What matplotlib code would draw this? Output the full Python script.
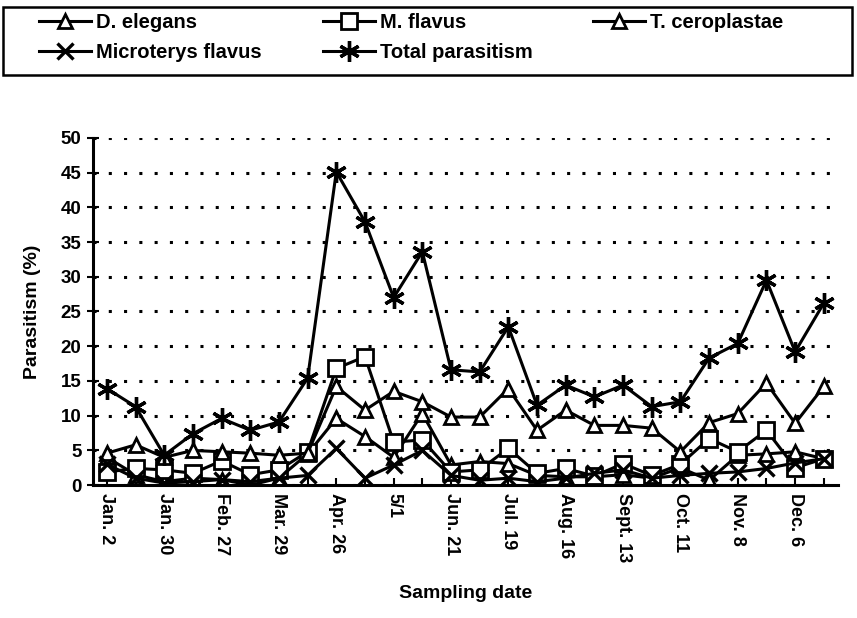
import numpy as np
import matplotlib
matplotlib.use('Agg')
import matplotlib.pyplot as plt
from matplotlib.patches import Rectangle

plt.rcParams['font.family'] = ['Liberation Sans', 'DejaVu Sans']
plt.rcParams['font.weight'] = 'bold'

### data
dates = ['Jan. 2', 'Jan. 30', 'Feb. 27', 'Mar. 29', 'Apr. 26', '5/1', 'Jun. 21',
         'Jul. 19', 'Aug. 16', 'Sept. 13', 'Oct. 11', 'Nov. 8', 'Dec. 6']

d_elegans = [4.0, 1.5, 0.5, 1.0, 0.8, 0.0, 1.0, 4.5, 9.6, 7.0, 4.0, 10.3, 2.9,
             3.4, 3.1, 1.4, 1.2, 1.2, 1.5, 1.0, 2.5, 0.7, 4.3, 4.5, 4.8, 3.8]
m_flavus = [1.9, 2.4, 2.2, 1.7, 3.5, 1.5, 2.2, 4.8, 16.8, 18.5, 6.2, 6.5, 1.9,
            2.2, 5.3, 1.7, 2.4, 1.3, 3.1, 1.4, 3.0, 6.7, 4.8, 7.9, 2.5, 3.8]
t_ceroplastae = [4.6, 5.8, 4.0, 5.0, 4.8, 4.6, 4.3, 4.6, 14.2, 10.8, 13.5, 12.0, 9.8,
                 9.8, 13.9, 7.9, 10.8, 8.6, 8.6, 8.2, 4.8, 9.0, 10.3, 14.7, 8.9, 14.2]
microterys = [3.0, 1.0, 0.3, 0.5, 0.8, 0.5, 1.0, 1.4, 5.3, 1.0, 2.9, 5.0, 1.4,
              0.7, 1.0, 0.5, 1.0, 1.7, 2.2, 1.0, 1.4, 1.7, 1.9, 2.4, 3.2, 3.8]
total = [13.9, 11.3, 4.3, 7.4, 9.6, 7.9, 9.1, 15.4, 45.1, 37.9, 27.0, 33.6, 16.6,
         16.3, 22.8, 11.5, 14.4, 12.7, 14.4, 11.3, 12.0, 18.3, 20.4, 29.5, 19.2, 26.2]

x = np.arange(len(total))

fig = plt.figure(figsize=(8.57, 6.18), dpi=100)
ax = fig.add_axes([0.108, 0.215, 0.870, 0.562])

lw = 2.2
l1, = ax.plot(x, d_elegans, color='k', lw=lw, marker='^', ms=10, mfc='white', mec='k', mew=2, label='D. elegans')
l2, = ax.plot(x, m_flavus, color='k', lw=lw, marker='s', ms=11, mfc='white', mec='k', mew=2, label='M. flavus')
l3, = ax.plot(x, t_ceroplastae, color='k', lw=lw, marker='^', ms=10, mfc='white', mec='k', mew=2, label='T. ceroplastae')
l4, = ax.plot(x, microterys, color='k', lw=lw, marker='x', ms=11, mew=2.4, label='Microterys flavus')
l5, = ax.plot(x, total, color='k', lw=lw, marker=(6, 2, 0), ms=15, mew=2.4, label='Total parasitism')

ax.set_xlim(-0.5, len(total) - 0.5)
ax.set_ylim(0, 50)
ax.set_yticks(np.arange(0, 51, 5))
ax.yaxis.grid(True, color='k', linestyle=(0, (1, 4)), linewidth=2.2)
ax.set_axisbelow(True)

ax.set_xticks(x)
ax.set_xticklabels([dates[i // 2] if i % 2 == 0 else '' for i in x], rotation=-90, va='top', ha='center')
ax.tick_params(axis='x', direction='in', length=5, width=1.5, labelsize=13, pad=6)
ax.tick_params(axis='y', direction='inout', length=9, width=1.5, labelsize=13.5)

for s in ['top', 'right']:
    ax.spines[s].set_visible(False)
for s in ['left', 'bottom']:
    ax.spines[s].set_linewidth(2.2)

ax.set_ylabel('Parasitism (%)', fontsize=14, fontweight='bold', labelpad=14)
ax.set_xlabel('Sampling date', fontsize=14, fontweight='bold', labelpad=16)

# legend: entries laid out in 3 columns, frame drawn separately
leg = fig.legend([l1, l4, l2, l5, l3], [l1.get_label(), l4.get_label(), l2.get_label(), l5.get_label(), l3.get_label()],
                 ncol=3, loc='upper left', bbox_to_anchor=(29 / 857, 1 - 3 / 618),
                 frameon=False, fontsize=14.5, handlelength=2.6, handletextpad=0.25,
                 borderpad=0, labelspacing=0.55, columnspacing=3.0)
fig.patches.append(Rectangle((3 / 857, 1 - 75 / 618), 849 / 857, 68 / 618, transform=fig.transFigure,
                             fill=False, edgecolor='k', linewidth=1.8))

plt.savefig('out.png', dpi=100)
